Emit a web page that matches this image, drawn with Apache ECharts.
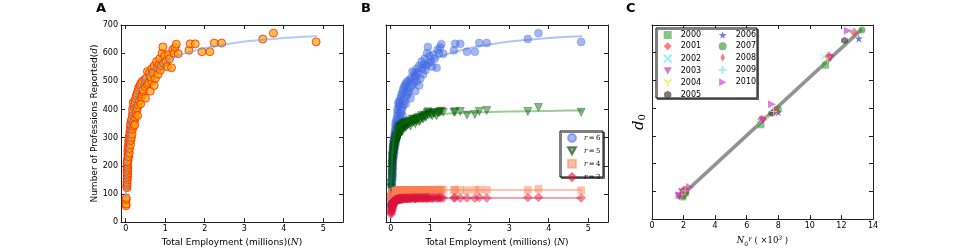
<!DOCTYPE html>
<html><head><meta charset="utf-8">
<script src="https://cdn.jsdelivr.net/npm/echarts@6/dist/echarts.min.js"></script>
<style>html,body{margin:0;padding:0;background:#fff}#c{width:970px;height:252px}</style>
</head><body><div id="c"></div>
<script>
// ---- Panel A / B data: total employment (millions) and number of professions by r ----
const employment = [
0.008,0.010,0.012,0.015,0.030,0.025,0.035,0.028,0.040,0.032,0.045,0.036,0.050,0.030,0.042,0.055,0.038,
0.048,0.035,0.060,0.045,0.070,0.040,0.055,0.075,0.050,0.065,0.085,0.060,0.090,0.070,0.080,
0.100,0.075,0.095,0.120,0.085,0.110,0.130,0.100,0.125,0.145,0.115,0.135,0.160,0.120,0.175,0.140,
0.190,0.150,0.200,0.165,0.220,0.180,0.240,0.170,0.250,0.200,0.230,0.215,0.270,0.190,0.290,0.230,0.300,
0.25,0.32,0.27,0.35,0.29,0.38,0.31,0.40,0.33,0.42,0.36,0.45,0.50,0.38,
0.44,0.42,0.50,0.48,0.55,0.62,0.52,0.58,0.55,0.62,0.66,0.60,0.72,
0.63,0.66,0.69,0.72,0.75,0.78,0.80,0.82,0.84,0.86,0.88,0.90,0.92,0.94,0.96,0.98,
1.02,1.05,1.08,1.11,1.16,1.19,1.22,1.25,1.28,1.33,
1.60,1.63,1.76,1.93,2.13,2.24,2.43,3.47,3.74,4.82];
const professionsR6 = [
58,64,80,86,122,128,135,142,150,156,162,168,174,180,186,192,198,
205,212,218,225,232,215,240,246,252,232,258,265,245,272,280,
262,288,295,275,302,310,290,318,325,300,332,340,312,348,330,358,
340,365,350,378,360,388,372,400,385,410,345,418,395,425,405,430,378,
440,415,450,430,458,420,468,445,478,455,485,462,440,492,
470,500,480,505,488,465,512,495,535,520,500,530,485,
515,545,530,555,510,570,545,525,560,580,540,555,600,622,565,590,
570,552,595,580,548,612,600,620,632,598,
610,633,633,605,605,636,636,650,671,640];
const professionsR5 = [
120,125,135,140,150,158,165,172,178,185,190,196,200,205,210,214,218,
222,228,232,236,240,232,246,250,254,244,258,262,252,266,270,
262,274,278,270,282,286,278,290,293,284,296,300,290,303,298,306,
302,310,306,316,310,320,316,325,320,330,312,333,326,336,330,338,322,
340,334,343,338,345,336,348,342,350,345,352,347,341,354,
350,356,352,358,354,349,360,356,366,362,358,364,356,
362,370,366,372,362,378,370,366,376,380,372,376,386,392,380,388,
382,378,388,386,378,390,388,392,394,390,
390,392,393,380,382,393,396,393,407,390];
const professionsR4 = [
88,90,92,94,95,96,97,98,98,99,100,100,101,102,101,103,102,
104,103,105,104,106,104,106,105,107,106,107,108,106,108,107,
108,109,108,109,110,109,110,109,111,110,110,111,110,112,111,111,
111,112,111,112,112,111,112,113,112,112,111,113,112,113,112,113,112,
113,112,113,113,112,113,113,112,113,113,114,112,113,113,
113,114,113,113,114,113,114,113,114,113,114,113,113,
114,114,113,114,113,114,114,113,114,115,114,113,114,115,114,114,
114,114,115,114,114,115,114,115,115,114,
114,115,114,113,114,115,114,114,118,113];
const professionsR3 = [
28,32,36,40,42,45,48,50,52,55,56,58,57,60,62,60,63,
64,66,62,68,66,64,70,68,72,66,70,72,74,70,74,
72,75,73,76,74,77,75,78,76,78,77,79,76,80,78,79,
80,79,81,80,82,81,80,82,83,81,80,83,82,84,82,83,82,
84,83,84,85,84,83,85,84,85,84,85,84,85,85,
84,86,85,85,86,84,85,86,86,85,86,85,86,
86,86,85,86,86,86,85,86,86,87,86,85,86,87,86,86,
86,85,86,87,86,86,87,86,87,86,
86,87,86,86,85,87,86,87,88,86];

// fitted curves
const fitX  = [0.002,0.005,0.01,0.02,0.03,0.05,0.07,0.1,0.15,0.2,0.3,0.4,0.5,0.6,0.8,1.0,1.25,1.5,2.0,2.5,3.0,3.5,4.0,4.5,4.85];
const fitR6 = [85,110,140,180,215,265,305,345,390,420,462,490,510,527,552,570,587,600,618,631,641,648,654,658,660];
const fitR5 = [110,130,155,190,220,258,280,302,326,339,352,360,366,370,376,380,384,386,389,391,393,394,395,396,396];
const fitR4 = [88,91,95,100,103,106,108,110,111,112,112,113,113,113,113,114,114,114,114,114,114,114,114,114,114];
const fitR3 = [35,42,50,58,64,70,74,77,80,82,83,84,85,85,85,86,86,86,86,86,86,86,86,86,86];

// axis ticks
const empTicks = [0,1,2,3,4,5];
const profTicks = [0,100,200,300,400,500,600,700];
const nTicks = [0,2,4,6,8,10,12,14];

// ---- Panel C data: [N0^gamma (x10^3), d0] per year ----
const years = ['2000','2001','2002','2003','2004','2005','2006','2007','2008','2009','2010'];
const y2000 = [[1.95,80],[2.1,95],[6.9,340],[11.0,555]];
const y2001 = [[1.9,88],[2.0,104],[6.95,360],[11.2,588]];
const y2002 = [[1.8,85],[2.0,100],[6.9,352],[10.9,585]];
const y2003 = [[1.7,82],[1.9,98],[7.0,356],[11.3,580]];
const y2004 = [[1.8,84],[2.0,100],[7.3,366],[11.1,575]];
const y2005 = [[1.9,86],[2.1,98],[7.6,382],[12.2,644]];
const y2006 = [[1.85,85],[2.05,100],[8.0,385],[13.1,651]];
const y2007 = [[2.0,84],[2.15,96],[8.0,397],[13.3,682]];
const y2008 = [[1.95,90],[2.1,105],[7.8,393],[12.8,674]];
const y2009 = [[1.9,88],[2.1,102],[7.7,388],[12.6,680]];
const y2010 = [[1.75,86],[2.4,116],[7.6,414],[12.4,679]];
const d0FitX = [1.8,13.3];
const d0FitY = [81,685];

const AX = '#222';
const SANS = 'DejaVu Sans';
const SERIF = 'DejaVu Serif';

function xAx(g, min, max, ticks, top){
  return {type:'value', gridIndex:g, min:min, max:max, position: top?'top':'bottom',
    axisLine:{show:true,onZero:false,lineStyle:{color:AX,width:1}},
    axisTick:{show:true,inside:true,length:4,customValues:ticks,lineStyle:{color:AX,width:1}},
    axisLabel:{show:!top,customValues:ticks,fontSize:8,color:'#000',margin:3,fontFamily:SANS},
    splitLine:{show:false}};
}
function yAx(g, ticks, right, labels){
  return {type:'value', gridIndex:g, min:0, max:700, position: right?'right':'left',
    axisLine:{show:true,onZero:false,lineStyle:{color:AX,width:1}},
    axisTick:{show:true,inside:true,length:4,customValues:ticks,lineStyle:{color:AX,width:1}},
    axisLabel:{show:!!labels,customValues:ticks,fontSize:8,color:'#000',margin:3,fontFamily:SANS},
    splitLine:{show:false}};
}
const zip = (xs, ys) => xs.map((x,i)=>[x, ys[i]]);

const xAxes = [xAx(0,-0.12,5.5,empTicks,false), xAx(0,-0.12,5.5,empTicks,true),
               xAx(1,-0.12,5.5,empTicks,false), xAx(1,-0.12,5.5,empTicks,true),
               xAx(2,0,14,nTicks,false), xAx(2,0,14,nTicks,true)];
const yAxes = [yAx(0,profTicks,false,true), yAx(0,profTicks,true,false),
               yAx(1,profTicks,false,false), yAx(1,profTicks,true,false),
               yAx(2,profTicks,false,false), yAx(2,profTicks,true,false)];
const richMath = {i:{fontFamily:SERIF,fontStyle:'italic',fontSize:9,color:'#000'}};
Object.assign(xAxes[0], {name:'Total Employment (millions)({i|N})', nameLocation:'middle', nameGap:11,
  nameTextStyle:{fontSize:9,fontFamily:SANS,color:'#000',rich:richMath}});
Object.assign(xAxes[2], {name:'Total Employment (millions) ({i|N})', nameLocation:'middle', nameGap:11,
  nameTextStyle:{fontSize:9,fontFamily:SANS,color:'#000',rich:richMath}});
Object.assign(yAxes[0], {name:'Number of Professions Reported({i|d})', nameLocation:'middle', nameGap:22,
  nameTextStyle:{fontSize:9,fontFamily:SANS,color:'#000',rich:richMath}});
Object.assign(xAxes[4], {name:'{i|N}{sub|0}{sup|γ}{t| ( ×10}{sup|3}{t| )}', nameLocation:'middle', nameGap:11,
  nameTextStyle:{fontSize:8.5,fontFamily:SERIF,color:'#000',rich:{
    i:{fontFamily:SERIF,fontStyle:'italic',fontSize:8.5,lineHeight:12,verticalAlign:'middle'},
    t:{fontFamily:SERIF,fontSize:8.5,lineHeight:12,verticalAlign:'middle'},
    sub:{fontFamily:SERIF,fontSize:6,lineHeight:6,verticalAlign:'bottom'},
    sup:{fontFamily:SERIF,fontStyle:'italic',fontSize:6,lineHeight:6,verticalAlign:'top'}}}});
Object.assign(yAxes[4], {name:'{i|d}{sub|0}', nameLocation:'middle', nameGap:5,
  nameTextStyle:{color:'#000',rich:{
    i:{fontFamily:SERIF,fontStyle:'italic',fontSize:15,lineHeight:16,verticalAlign:'middle'},
    sub:{fontFamily:SERIF,fontSize:10,lineHeight:10,verticalAlign:'bottom'}}}});

const series = [];
// Panel A
series.push({type:'scatter', name:'A', xAxisIndex:0, yAxisIndex:0, data:zip(employment,professionsR6),
  symbol:'circle', symbolSize:8, z:2,
  itemStyle:{color:'rgba(255,165,0,0.9)', borderColor:'rgba(255,20,0,0.9)', borderWidth:1}});
series.push({type:'line', name:'fitA', xAxisIndex:0, yAxisIndex:0, data:zip(fitX,fitR6), showSymbol:false, z:3,
  lineStyle:{color:'rgba(100,149,237,0.5)', width:2}});
// Panel B
const bDefs = [
  ['r=6', professionsR6, fitR6, 'circle', 8, 'rgba(65,105,225,0.6)', 'rgba(65,105,225,0.6)', 'rgba(65,105,225,0.4)'],
  ['r=5', professionsR5, fitR5, 'path://M0,0L10,0L5,9Z', 8, 'rgba(0,110,0,0.6)', 'rgba(0,50,0,0.7)', 'rgba(0,128,0,0.4)'],
  ['r=4', professionsR4, fitR4, 'rect', 7, 'rgba(255,127,80,0.6)', 'rgba(255,127,80,0.6)', 'rgba(255,127,80,0.45)'],
  ['r=3', professionsR3, fitR3, 'diamond', 9, 'rgba(220,20,60,0.6)', 'rgba(220,20,60,0.6)', 'rgba(220,20,60,0.4)']];
bDefs.forEach(d=>{
  series.push({type:'scatter', name:d[0], xAxisIndex:2, yAxisIndex:2, data:zip(employment,d[1]),
    symbol:d[3], symbolSize:d[4], z:2, itemStyle:{color:d[5], borderColor:d[6], borderWidth:0.6}});
  series.push({type:'line', name:'fit'+d[0], xAxisIndex:2, yAxisIndex:2, data:zip(fitX,d[2]), showSymbol:false, z:3,
    lineStyle:{color:d[7], width:2}});
});
// Panel C
series.push({type:'line', name:'fitC', xAxisIndex:4, yAxisIndex:4, data:zip(d0FitX,d0FitY), showSymbol:false, z:1,
  lineStyle:{color:'rgba(128,128,128,0.85)', width:3.5}});
const yearData = [y2000,y2001,y2002,y2003,y2004,y2005,y2006,y2007,y2008,y2009,y2010];
const yearStyle = [
  ['rect', 7, {color:'rgba(50,160,50,0.75)'}],
  ['diamond', 9, {color:'rgba(255,50,50,0.8)'}],
  ['path://M0,0L10,10M10,0L0,10', 7, {color:'rgba(0,0,0,0)', borderColor:'#7ee8ee', borderWidth:1}],
  ['path://M0,0L10,0L5,9Z', 8, {color:'rgba(190,40,190,0.8)'}],
  ['path://M5,5L5,10M5,5L0,1M5,5L10,1', 7, {color:'rgba(0,0,0,0)', borderColor:'#eeee55', borderWidth:1}],
  ['path://M5,0L9.5,2.5L9.5,7.5L5,10L0.5,7.5L0.5,2.5Z', 7, {color:'rgba(60,60,60,0.85)'}],
  ['path://M5,0L6.2,3.6L10,3.6L6.9,5.9L8.1,9.6L5,7.3L1.9,9.6L3.1,5.9L0,3.6L3.8,3.6Z', 8, {color:'rgba(50,60,200,0.85)'}],
  ['circle', 7, {color:'rgba(50,150,50,0.8)'}],
  ['path://M5,0L8,5L5,10L2,5Z', 9, {color:'rgba(240,60,60,0.8)'}],
  ['path://M5,0L5,10M0,5L10,5', 7, {color:'rgba(0,0,0,0)', borderColor:'#8eeaee', borderWidth:1}],
  ['path://M0,0L9,5L0,10Z', 8, {color:'rgba(200,60,200,0.8)'}]];
years.forEach((yr,i)=>{
  series.push({type:'scatter', name:yr, xAxisIndex:4, yAxisIndex:4, data:yearData[i],
    symbol:yearStyle[i][0], symbolSize:yearStyle[i][1], z:2, itemStyle:yearStyle[i][2]});
});

const legText = {fontSize:8, fontFamily:SANS, color:'#000', lineHeight:8, padding:[0,0,0,4]};
const option = {
  animation:false,
  backgroundColor:'#fff',
  grid:[{left:121,top:25,width:222,height:202},
        {left:386,top:25,width:222,height:202},
        {left:652,top:25,width:221,height:202}],
  xAxis:xAxes, yAxis:yAxes, series:series,
  legend:[
    {data:['r=6','r=5','r=4','r=3'], orient:'vertical', left:567, top:133, itemWidth:8, itemHeight:8, itemGap:3.3,
     padding:0, z:10, selectedMode:false,
     formatter:n=>'{i|r}{t|\u2009=\u2009'+n.slice(2)+'}',
     textStyle:{fontSize:7, fontFamily:SERIF, color:'#000', lineHeight:8, padding:[0,0,0,3],
       rich:{i:{fontFamily:SERIF,fontStyle:'italic',fontSize:7,lineHeight:8},t:{fontFamily:SERIF,fontSize:7,lineHeight:8}}}},
    {data:years.slice(0,6), orient:'vertical', left:662.7, top:31, itemWidth:8, itemHeight:8, itemGap:3.3,
     padding:0, z:10, selectedMode:false, textStyle:legText},
    {data:years.slice(6), orient:'vertical', left:717.7, top:31, itemWidth:8, itemHeight:8, itemGap:3.3,
     padding:0, z:10, selectedMode:false, textStyle:legText}],
  graphic:[
    {type:'text', left:96, top:2, z:10, style:{text:'A', font:'bold 13px "DejaVu Sans"', fill:'#000'}},
    {type:'text', left:361, top:2, z:10, style:{text:'B', font:'bold 13px "DejaVu Sans"', fill:'#000'}},
    {type:'text', left:626, top:2, z:10, style:{text:'C', font:'bold 13px "DejaVu Sans"', fill:'#000'}},
    {type:'rect', z:8, shape:{x:560,y:131,width:43,height:46}, style:{fill:'#fff',stroke:'#000',lineWidth:1,
      shadowColor:'rgba(0,0,0,0.5)',shadowOffsetX:1.5,shadowOffsetY:1.5,shadowBlur:0}},
    {type:'rect', z:8, shape:{x:656,y:28,width:101,height:70}, style:{fill:'#fff',stroke:'#000',lineWidth:1,
      shadowColor:'rgba(0,0,0,0.5)',shadowOffsetX:1.5,shadowOffsetY:1.5,shadowBlur:0}}]
};
const chart = echarts.init(document.getElementById('c'));
chart.setOption(option);
</script></body></html>
